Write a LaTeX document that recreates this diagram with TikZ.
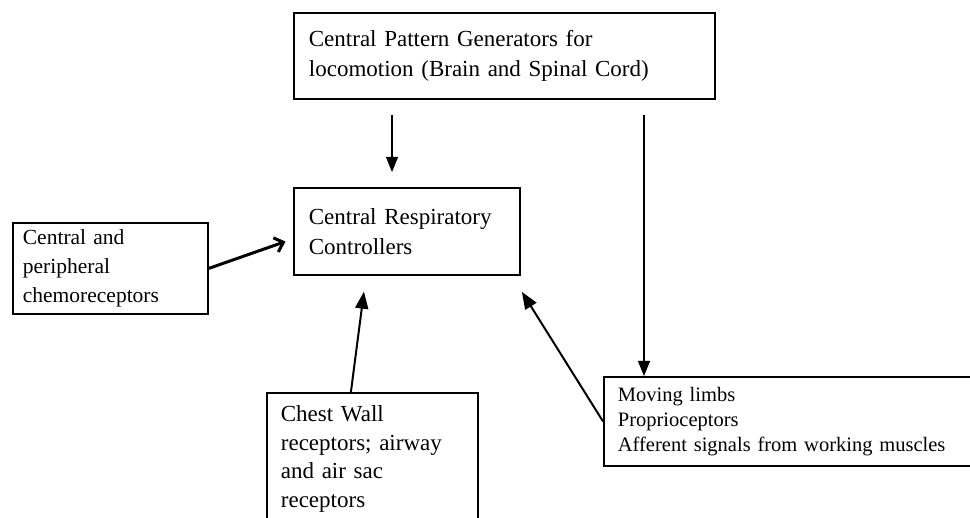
\documentclass[tikz,border=0pt]{standalone}
\usepackage{fontspec}
\setmainfont{Liberation Serif}
\usepackage{tikz}
\usetikzlibrary{arrows.meta}

\tikzset{
  box/.style={draw, line width=1.8pt, anchor=north west, align=left, inner xsep=14pt},
  big/.style={font=\fontsize{23}{30}\selectfont},
  flow/.style={line width=1.2pt, -{Triangle[length=15pt,width=12pt]}},
  feed/.style={line width=2pt, -{Triangle[length=17pt,width=13pt]}},
  push/.style={line width=3pt, -{Straight Barb[length=8pt,width=15pt]}}
}

\begin{document}
\begin{tikzpicture}[x=1pt,y=-1pt]
			\useasboundingbox (0,0) rectangle (970,518);
			\clip (0,0) rectangle (970,518);
			\node[box,big,minimum width=421pt,minimum height=86pt,text width=391pt] (cpg) at (293,12) {Central Pattern Generators for\\locomotion (Brain and Spinal Cord)};
			\node[box,big,minimum width=226pt,minimum height=87pt,text width=196pt] (crc) at (293,187) {Central Respiratory\\Controllers\\[6pt]};
			\node[box,font=\fontsize{21.5}{29}\selectfont,inner xsep=10pt,minimum width=195pt,minimum height=91pt,text width=175pt] (chemo) at (12,222) {Central and\\peripheral\\chemoreceptors};
			\node[box,font=\fontsize{23}{28.5}\selectfont,inner ysep=13pt,minimum width=211pt,text width=183pt] (chest) at (266,392) {Chest Wall\\receptors; airway\\and air sac\\receptors};
			\node[box,font=\fontsize{20.5}{25}\selectfont,minimum width=380pt,minimum height=89pt,text width=352pt] (limbs) at (603,376) {Moving limbs\\Proprioceptors\\Afferent signals from working muscles};
			% downward signals from the pattern generators
			\draw[flow,shorten <=15pt,shorten >=15pt] ([xshift=99pt]cpg.south west) -- ([xshift=99pt]crc.north west);
			\draw[flow,shorten <=15pt] ([xshift=351pt]cpg.south west) -- ([xshift=351pt]cpg.south west |- limbs.north);
			% inputs to the respiratory controllers
			\draw[push,shorten >=8pt] (chemo.east) -- ([yshift=-7.5pt]crc.west);
			\draw[feed,shorten >=16pt] ([xshift=-21.5pt]chest.north) -- ([xshift=73pt]crc.south west);
			\draw[feed,shorten >=19pt] (limbs.west) -- ([xshift=-9pt]crc.south east);
		\end{tikzpicture}
\end{document}
